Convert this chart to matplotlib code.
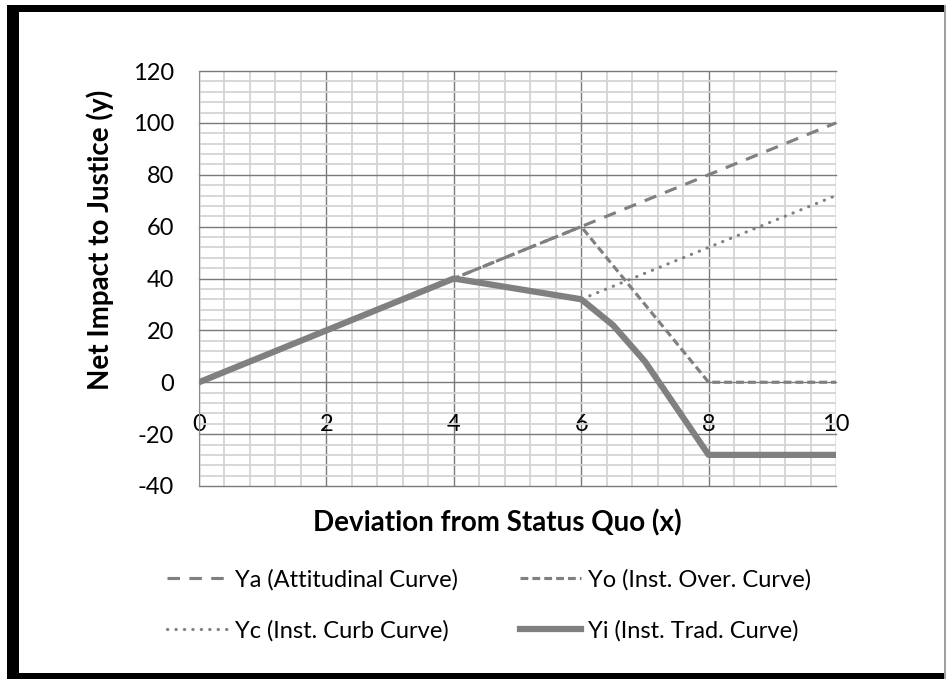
import matplotlib
matplotlib.use("Agg")
import matplotlib.pyplot as plt
from matplotlib.patches import Rectangle

# datos
x_ya = [0, 2, 4, 6, 8, 10]
y_ya = [0, 20, 40, 60, 80, 100]
x_yo = [0, 2, 4, 6, 8, 10]
y_yo = [0, 20, 40, 60, 0, 0]
x_yc = [0, 2, 4, 6, 8, 10]
y_yc = [0, 20, 40, 32, 52, 72]
x_yi = [0, 2, 4, 6, 6.5, 7, 8, 10]
y_yi = [0, 20, 40, 32, 22, 8, -28, -28]

x_ticks = [0, 2, 4, 6, 8, 10]
y_ticks = [-40, -20, 0, 20, 40, 60, 80, 100, 120]
labels = ["Ya (Attitudinal Curve)", "Yo (Inst. Over. Curve)",
          "Yc (Inst. Curb Curve)", "Yi (Inst. Trad. Curve)"]

plt.rcParams["font.family"] = ["Lato", "DejaVu Sans"]
plt.rcParams["axes.unicode_minus"] = False
W, H = 946, 679
fig = plt.figure(figsize=(W / 100, H / 100), dpi=100)
ax = fig.add_axes([199 / W, 1 - 486 / H, (836 - 199) / W, (486 - 71) / H])

gris = "#808080"
lw = 2.25
ya, = ax.plot(x_ya, y_ya, color=gris, lw=lw, linestyle=(0, (4, 3)), zorder=3)
yo, = ax.plot(x_yo, y_yo, color=gris, lw=lw, linestyle=(0, (2.5, 1.3)), zorder=3)
yc, = ax.plot(x_yc, y_yc, color=gris, lw=lw, linestyle=(0, (0.1, 2.6)),
              dash_capstyle="round", zorder=3)
yi, = ax.plot(x_yi, y_yi, color=gris, lw=4.5, solid_joinstyle="round", zorder=4)

ax.set_xlim(0, 10)
ax.set_ylim(-40, 120)
ax.set_xticks(x_ticks)
ax.set_yticks(y_ticks)
ax.set_xticks([i * 0.4 for i in range(26)], minor=True)
ax.set_yticks([-40 + i * 4 for i in range(41)], minor=True)
ax.grid(which="major", color="#7a7a7a", lw=1.0, zorder=1)
ax.grid(which="minor", color="#d4d4d4", lw=1.3, zorder=0)
ax.set_axisbelow(True)
for l in ax.get_xgridlines() + ax.get_ygridlines():
    l.set_clip_on(False)

for s in ["top", "right", "bottom"]:
    ax.spines[s].set_visible(False)
ax.spines["left"].set_color("#8c8c8c")
ax.spines["bottom"].set_position(("data", 0))
ax.tick_params(which="both", length=0)
ax.tick_params(axis="x", pad=23, labelsize=17)
ax.tick_params(axis="y", pad=18, labelsize=17)

fig.text(497 / W, 1 - 523 / H, "Deviation from Status Quo (x)", ha="center",
         va="center", fontsize=20, fontweight="bold")
fig.text(100 / W, 1 - 240 / H, "Net Impact to Justice (y)", ha="center",
         va="center", rotation=90, fontsize=20, fontweight="bold")

fig.legend([ya, yc, yo, yi], [labels[0], labels[2], labels[1], labels[3]],
           ncol=2, loc="upper left", bbox_to_anchor=(155 / W, 1 - 557 / H),
           frameon=False, fontsize=17, handlelength=2.6, handletextpad=0.3,
           columnspacing=2.6, labelspacing=1.25, borderpad=0)

# marco negro alrededor de la imagen
fig.add_artist(Rectangle((7 / W, 0), 12 / W, 1 - 5 / H, transform=fig.transFigure,
                         color="black", lw=0))
fig.add_artist(Rectangle((7 / W, 1 - 12 / H), 1, 7 / H, transform=fig.transFigure,
                         color="black", lw=0))
fig.add_artist(Rectangle((7 / W, 0), 1, 6 / H, transform=fig.transFigure,
                         color="black", lw=0))
fig.add_artist(Rectangle((1 - 2 / W, 0), 2 / W, 1 - 5 / H, transform=fig.transFigure,
                         color="#a0a0a0", lw=0))

fig.savefig("out.png", dpi=100)
